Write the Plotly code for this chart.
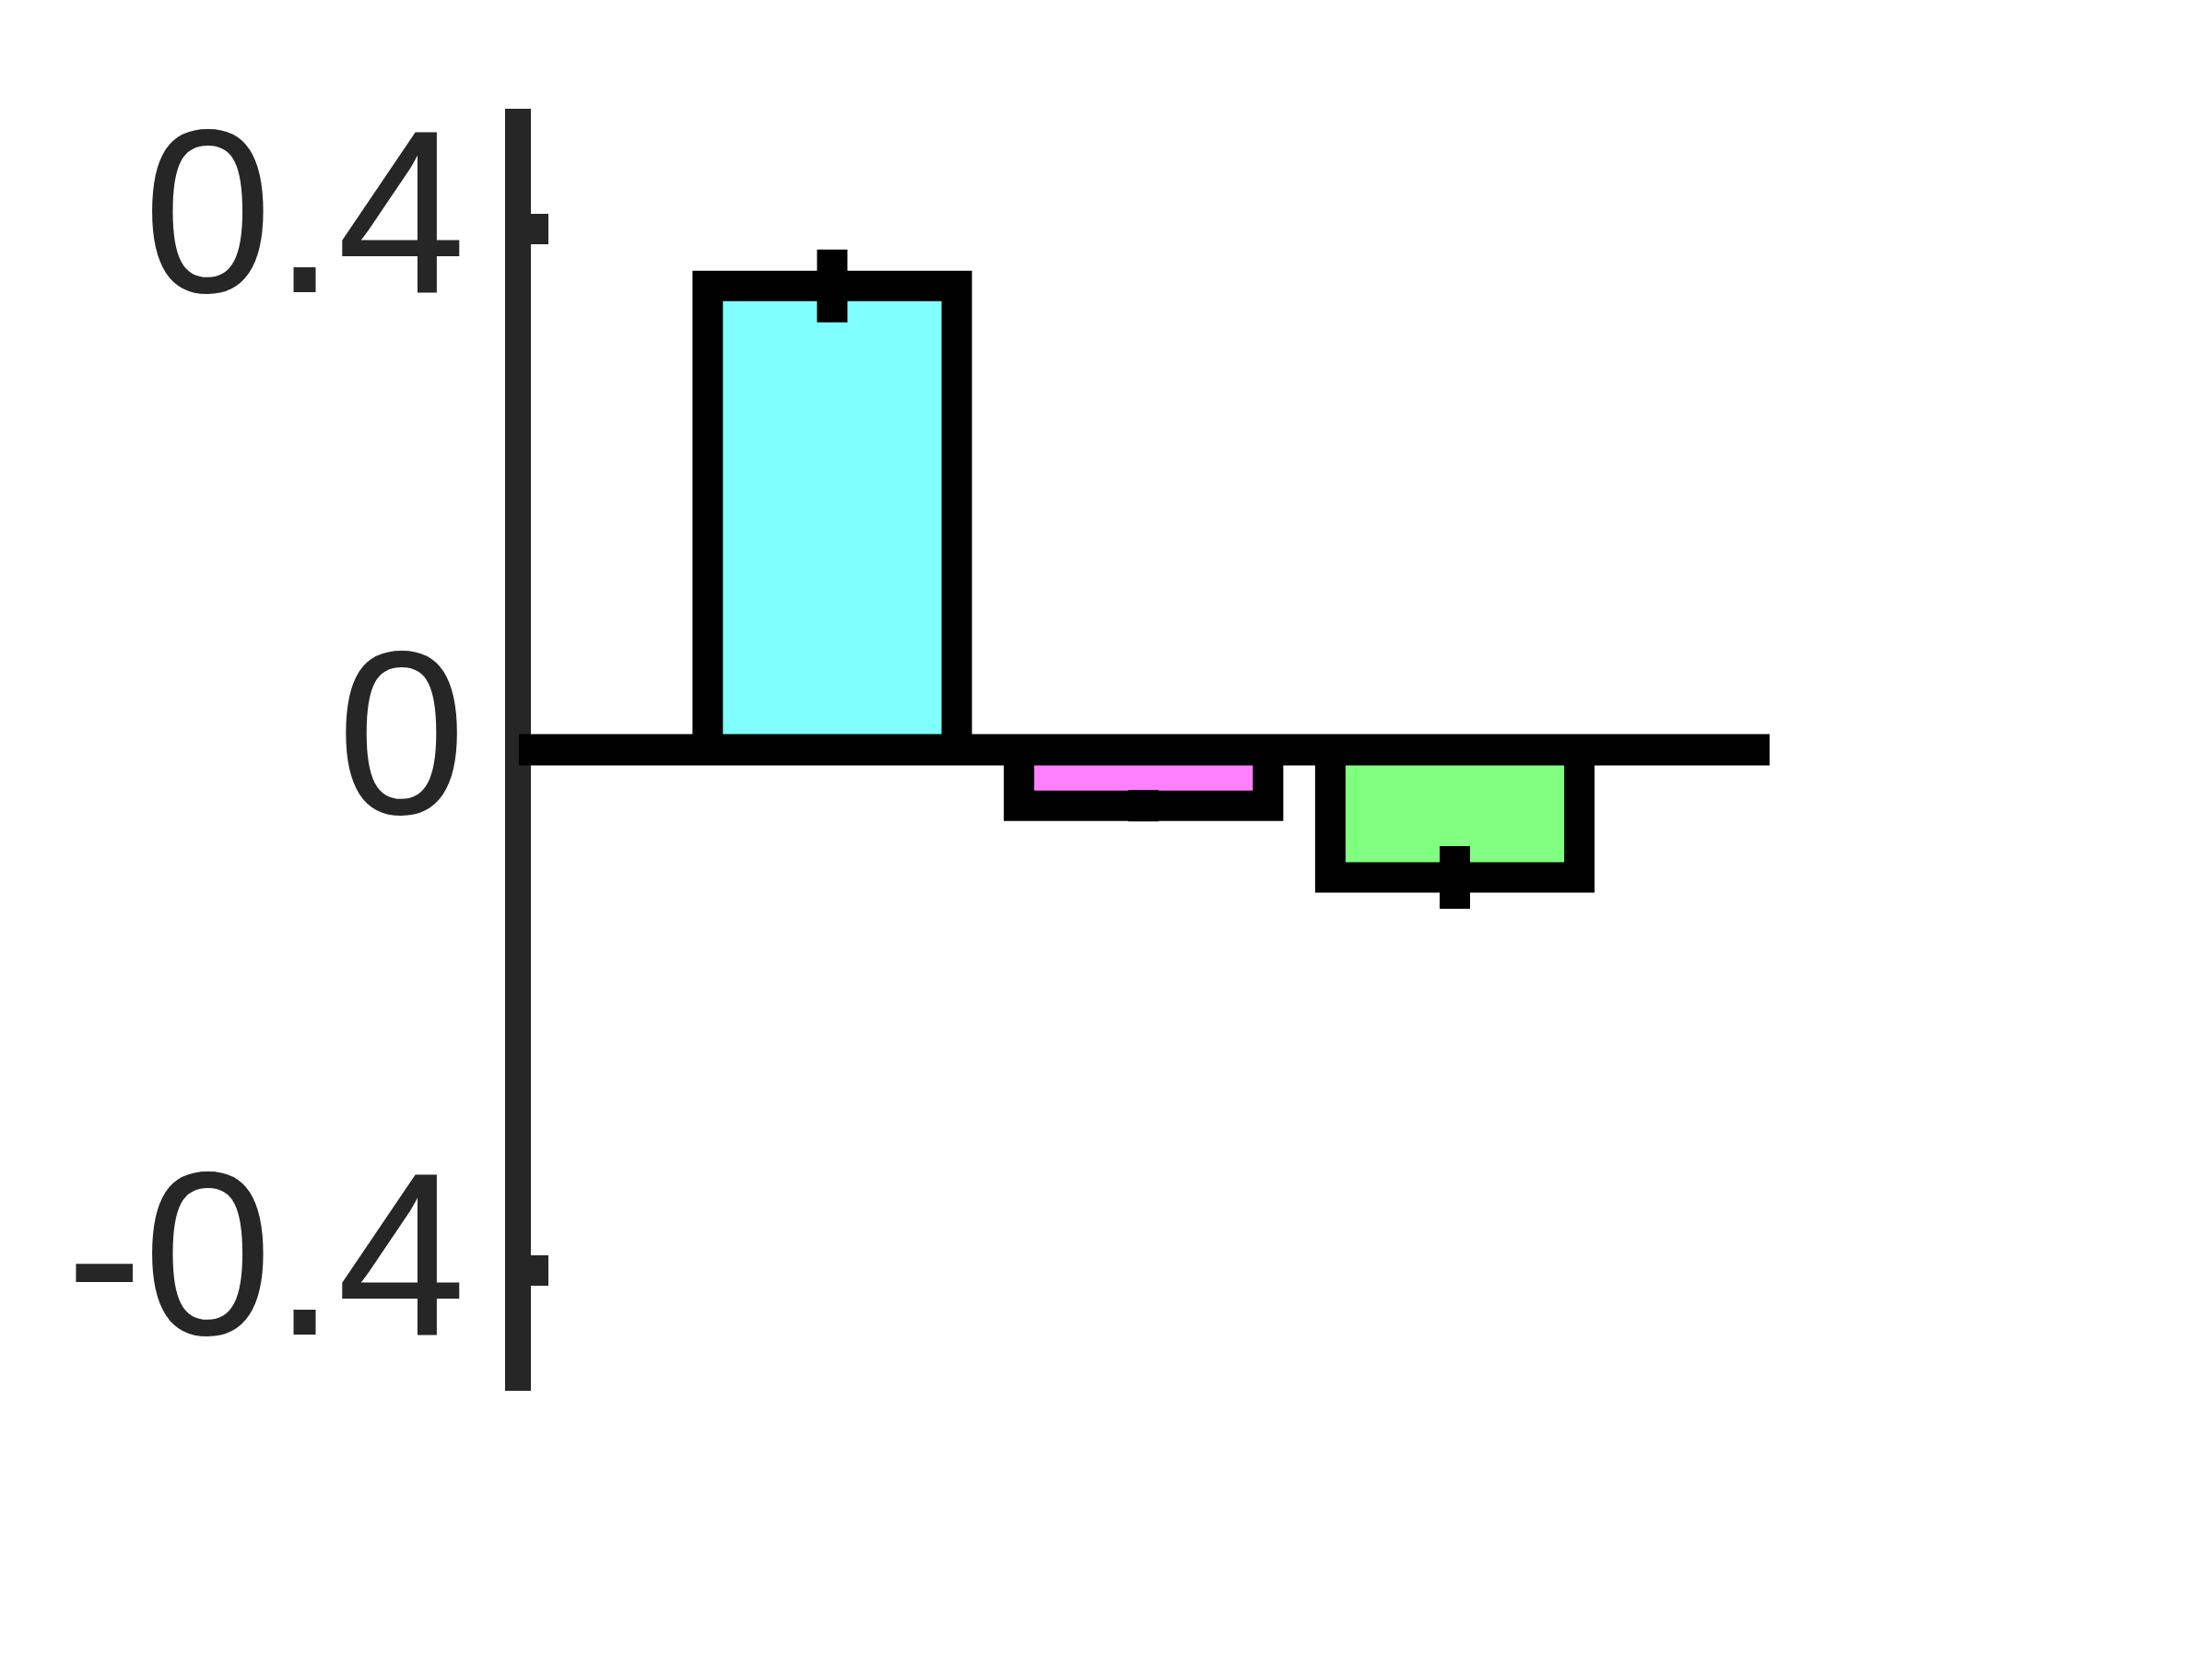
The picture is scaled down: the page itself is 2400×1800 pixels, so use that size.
import plotly.graph_objects as go

categories = ["A", "B", "C"]
values = [0.356, -0.043, -0.098]
errors = [0.028, 0.012, 0.024]
colors = ["#80FFFF", "#FF80FF", "#80FF80"]
tick_vals = [-0.4, 0, 0.4]
tick_text = ["-0.4", "0", "0.4"]

fig = go.Figure()
fig.add_trace(go.Bar(
    x=categories,
    y=values,
    marker=dict(color=colors, line=dict(color="black", width=33)),
    error_y=dict(type="data", array=errors, visible=True,
                 color="black", thickness=33, width=0),
    width=0.8,
))

# baseline at y = 0, drawn over the axis line as in the reference
fig.add_shape(type="line", xref="paper", yref="y",
              x0=-0.0097, x1=1, y0=0, y1=0,
              line=dict(color="black", width=34), layer="above")

fig.update_layout(
    width=2400, height=1800,
    margin=dict(l=568, r=488, t=110, b=299, pad=0),
    paper_bgcolor="white", plot_bgcolor="white",
    showlegend=False,
    font=dict(family="Liberation Sans, Arial, sans-serif", color="#262626"),
)
fig.update_xaxes(
    range=[-0.968, 3.011],
    showline=False, showticklabels=False, ticks="",
    showgrid=False, zeroline=False,
)
fig.update_yaxes(
    range=[-0.492, 0.492],
    tickmode="array", tickvals=tick_vals, ticktext=tick_text,
    ticks="inside", ticklen=19, tickwidth=33, tickcolor="#262626",
    showline=True, linewidth=28, linecolor="#262626",
    zeroline=False,
    showgrid=False,
    ticklabelshift=-19,
    ticklabelstandoff=-8,
    tickfont=dict(size=252, color="#262626",
                  family="Liberation Sans, Arial, sans-serif"),
)

fig.write_html("out.html")
